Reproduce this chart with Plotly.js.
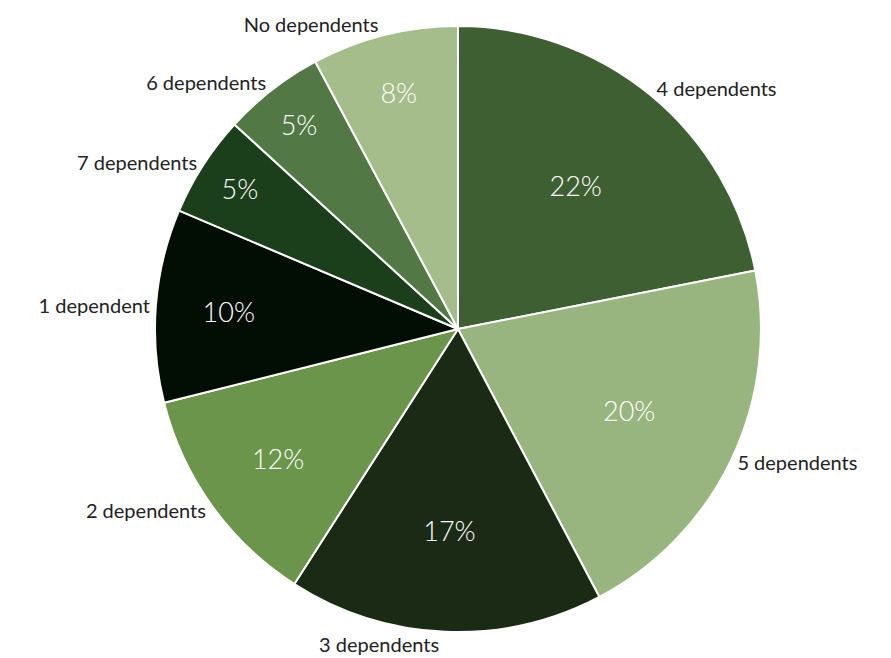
<!DOCTYPE html>
<html>
<head>
<meta charset="utf-8">
<script src="https://cdn.plot.ly/plotly-3.0.1.min.js"></script>
<style>html,body{margin:0;padding:0;background:#fff;}#chart{width:891px;height:658px;}</style>
</head>
<body>
<div id="chart"></div>
<script>
const categories = ["4 dependents", "5 dependents", "3 dependents", "2 dependents", "1 dependent", "7 dependents", "6 dependents", "No dependents"];
const shares = [21.9, 20.35, 16.8, 12.0, 10.3, 5.4, 5.4, 7.8];
const sliceColors = ["#3d5f32", "#99b57f", "#1a2a15", "#6a954a", "#020d03", "#1b3f1b", "#527845", "#a5bd8a"];

const domain = {x: [0.164, 0.864], y: [0, 1]};
const fontFamily = "Lato, 'Open Sans', sans-serif";

const inner = {
  type: "pie",
  labels: categories,
  values: shares,
  sort: false,
  direction: "clockwise",
  rotation: 0,
  domain: domain,
  marker: {colors: sliceColors, line: {color: "#ffffff", width: 2}},
  textposition: "inside",
  insidetextorientation: "horizontal",
  texttemplate: "%{percent:.0%}",
  textfont: {family: fontFamily, size: 27, weight: 300, color: "#ffffff"},
  hoverinfo: "label+percent",
  showlegend: false
};

const outer = {
  type: "pie",
  labels: categories,
  values: shares,
  sort: false,
  direction: "clockwise",
  rotation: 0,
  domain: domain,
  marker: {colors: categories.map(() => "rgba(0,0,0,0)"), line: {width: 0}},
  textposition: "outside",
  texttemplate: "%{label}",
  textfont: {family: fontFamily, size: 20, weight: 400, color: "#222222"},
  hoverinfo: "skip",
  automargin: false,
  showlegend: false
};

const layout = {
  width: 891,
  height: 658,
  margin: {l: 0, r: 0, t: 26, b: 26},
  paper_bgcolor: "#ffffff",
  plot_bgcolor: "#ffffff",
  showlegend: false
};

Plotly.newPlot("chart", [inner, outer], layout, {displayModeBar: false, staticPlot: true});
</script>
</body>
</html>
